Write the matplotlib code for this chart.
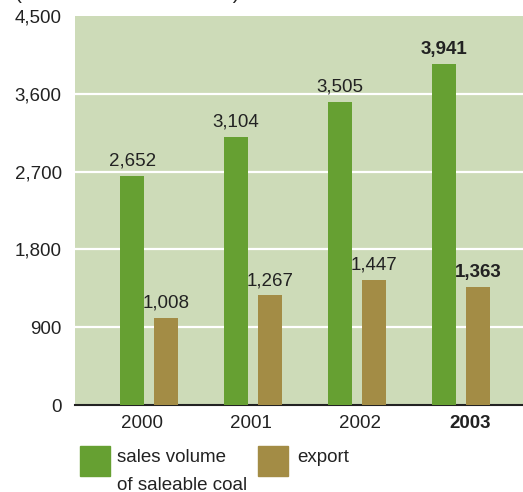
import matplotlib
matplotlib.use("Agg")
import matplotlib.pyplot as plt
from matplotlib.patches import Rectangle

plt.rcParams["font.family"] = ["Liberation Sans", "DejaVu Sans"]

YEARS = ["2000", "2001", "2002", "2003"]
SALES = [2652, 3104, 3505, 3941]
EXPORT = [1008, 1267, 1447, 1363]
Y_TICKS = [0, 900, 1800, 2700, 3600, 4500]

GREEN = "#66a032"
BROWN = "#a38c45"
PANEL = "#cddbb8"
TEXT = "#222222"
FS = 13.5

W, H = 523, 492
fig = plt.figure(figsize=(W / 100, H / 100), dpi=100)
ax = fig.add_axes([75 / W, 1 - 405 / H, (W - 75) / W, 389 / H])
ax.set_facecolor(PANEL)

x = list(range(len(YEARS)))
bw = 0.23
off = 0.163
ax.bar([i - off for i in x], SALES, bw, color=GREEN, zorder=3)
ax.bar([i + off for i in x], EXPORT, bw, color=BROWN, zorder=3)

last = len(YEARS) - 1
for i in x:
    weight = "bold" if i == last else "normal"
    ax.annotate(f"{SALES[i]:,}", (i - off, SALES[i]), xytext=(0, 4.5),
                textcoords="offset points", ha="center", va="bottom",
                fontsize=FS, color=TEXT, fontweight=weight)
    ax.annotate(f"{EXPORT[i]:,}", (i + off, EXPORT[i]), xytext=(0, 4.5),
                textcoords="offset points", ha="center", va="bottom",
                fontsize=FS, color=TEXT, fontweight=weight)

ax.set_xlim(-0.712, 3.596)
ax.set_ylim(0, 4500)
ax.set_yticks(Y_TICKS)
ax.set_yticklabels([f"{v:,}" for v in Y_TICKS], fontsize=FS, color=TEXT)
ax.set_xticks([i - 0.067 + 0.05 * i for i in x])
ax.set_xticklabels(YEARS, fontsize=FS, color=TEXT)
ax.get_xticklabels()[last].set_fontweight("bold")
ax.tick_params(axis="x", length=0, pad=7)
ax.tick_params(axis="y", length=0, pad=9.5)

for v in Y_TICKS[1:-1]:
    ax.axhline(v, color="white", lw=1.6, zorder=1)
for s in ["left", "right", "top"]:
    ax.spines[s].set_visible(False)
ax.spines["bottom"].set_color(TEXT)
ax.spines["bottom"].set_linewidth(1.5)

# unit caption sits mostly above the top edge of the figure
fig.text(15 / W, 1 + 1 / H, "(in thousands of tonnes)", fontsize=15,
         ha="left", va="baseline", color=TEXT)

# legend drawn by hand in figure pixels
def swatch(px, color):
    fig.add_artist(Rectangle((px / W, 1 - 476 / H), 30 / W, 30 / H,
                             transform=fig.transFigure, color=color))

swatch(80, GREEN)
swatch(258, BROWN)
fig.text(117 / W, 1 - 457 / H, "sales volume", fontsize=FS, va="center", color=TEXT)
fig.text(117 / W, 1 - 485 / H, "of saleable coal", fontsize=FS, va="center", color=TEXT)
fig.text(297 / W, 1 - 457 / H, "export", fontsize=FS, va="center", color=TEXT)

fig.savefig("out.png", dpi=100)
